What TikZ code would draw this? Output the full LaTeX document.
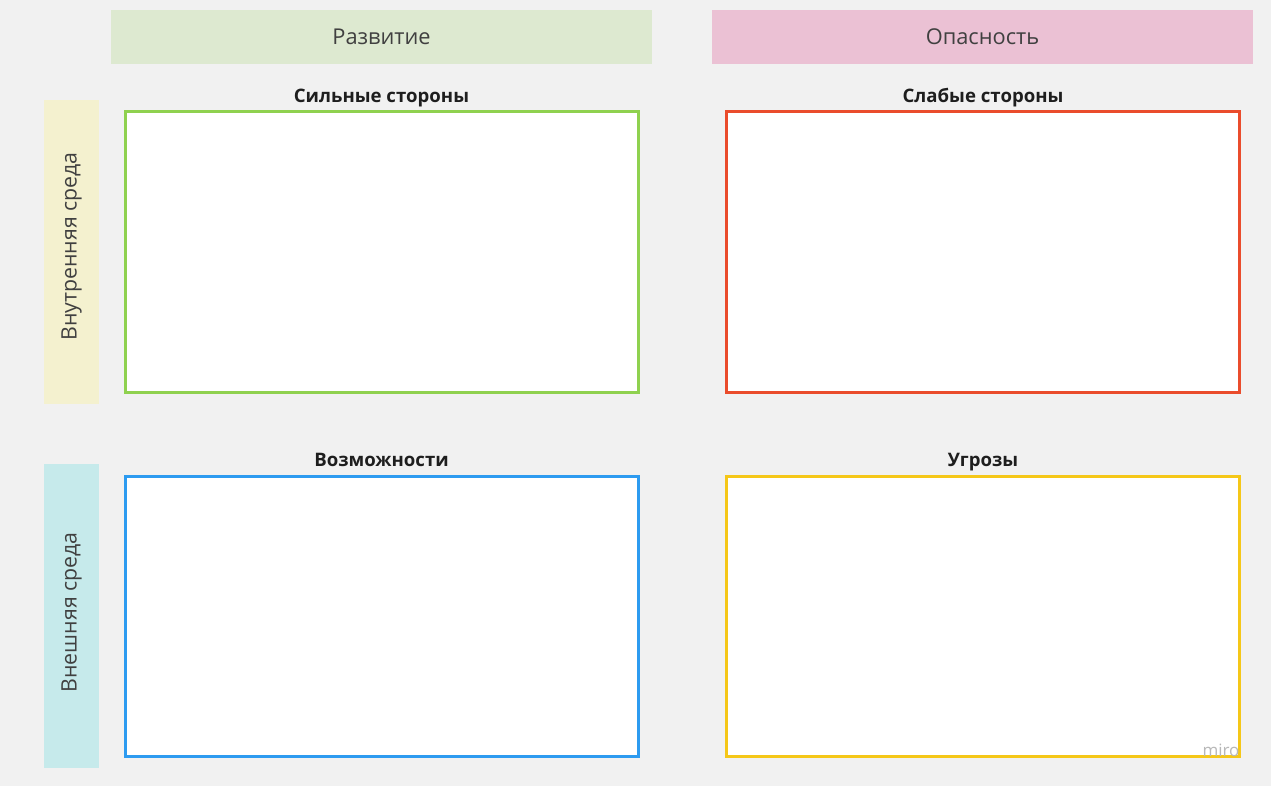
\documentclass[tikz,border=0pt]{standalone}
\usepackage{fontspec}
\setmainfont{Open Sans}
\definecolor{BoardBg}{RGB}{241,241,241}
\definecolor{DevFill}{RGB}{221,233,208}
\definecolor{RiskFill}{RGB}{235,193,212}
\definecolor{InnerFill}{RGB}{244,241,207}
\definecolor{OuterFill}{RGB}{198,234,235}
\definecolor{StrongBorder}{RGB}{143,209,79}
\definecolor{WeakBorder}{RGB}{234,76,44}
\definecolor{ChanceBorder}{RGB}{45,155,240}
\definecolor{ThreatBorder}{RGB}{245,199,24}
\definecolor{TextDark}{RGB}{30,30,30}
\usetikzlibrary{positioning}
\tikzset{
  % Column header bar
  headbar/.style={
    minimum width=541pt,
    minimum height=54pt,
    inner sep=0pt,
    text=TextDark!85,
    font=\fontsize{21.8}{26}\selectfont
  },
  % Row header bar (rotated)
  sidebar/.style={
    rotate=90,
    minimum width=304pt,
    minimum height=55pt,
    inner sep=0pt,
    text=TextDark!85,
    font=\fontsize{21.3}{26}\selectfont
  },
  % Quadrant box
  quadbox/.style={
    draw,
    fill=white,
    line width=3pt,
    minimum width=513pt,
    minimum height=280pt,
    inner sep=0pt
  },
  % Quadrant title
  quadtitle/.style={
    anchor=base,
    inner sep=0pt,
    text=TextDark,
    font=\fontsize{18.6}{22}\selectfont\bfseries
  }
}
\begin{document}
\begin{tikzpicture}[x=1pt, y=-1pt]
  \fill[BoardBg] (0,0) rectangle (1271,786);
  \useasboundingbox (0,0) rectangle (1271,786);
  % Column headers
  \node[headbar, fill=DevFill] (dev) at (381.5,37) {Развитие};
  \node[headbar, fill=RiskFill] (risk) at (982.5,37) {Опасность};
  % Row headers
  \node[sidebar, fill=InnerFill] (inner) at (71.5,252) {\hspace*{11pt}Внутренняя среда};
  \node[sidebar, fill=OuterFill] (outer) at (71.5,616) {\hspace*{7pt}Внешняя среда};
  % Quadrants
  \foreach \name/\x/\y/\col/\title in {
      strong/381.5/252/StrongBorder/Сильные стороны,
      weak/983/252/WeakBorder/Слабые стороны,
      chance/381.5/616/ChanceBorder/Возможности,
      threat/983/616/ThreatBorder/Угрозы} {
    \node[quadbox, draw=\col] (\name) at (\x,\y) {};
    \node[quadtitle] (\name-t) at ([yshift=8pt]\name.north) {\title};
  }
  % Watermark
  \node[text=black!28, font=\fontsize{17}{20}\selectfont, inner sep=0pt] (logo) at (1221,750) {miro};
\end{tikzpicture}
\end{document}
